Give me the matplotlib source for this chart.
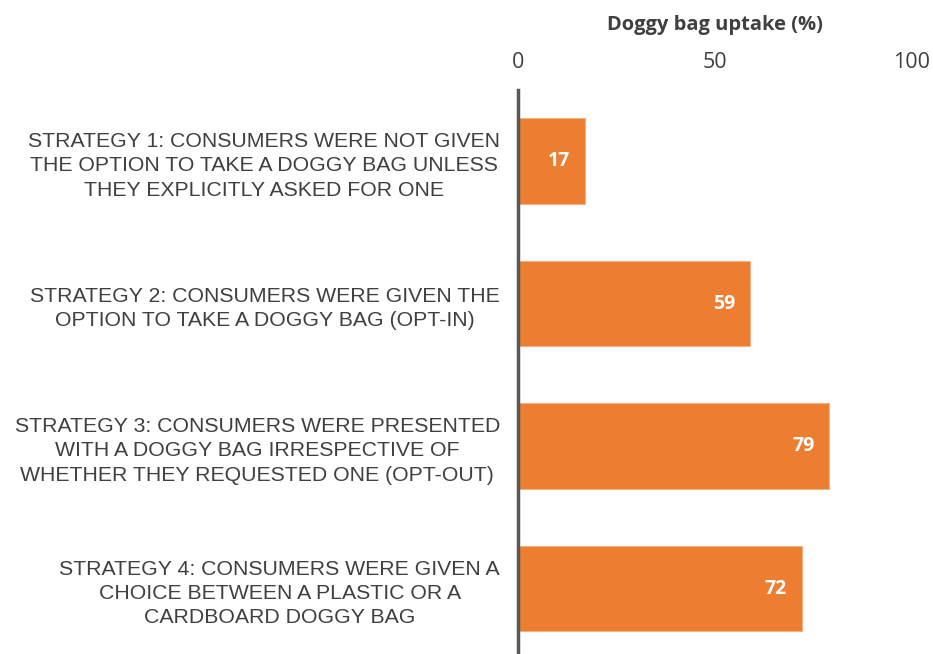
import matplotlib.pyplot as plt

# data
strategies = [
    "STRATEGY 1: CONSUMERS WERE NOT GIVEN\nTHE OPTION TO TAKE A DOGGY BAG UNLESS\nTHEY EXPLICITLY ASKED FOR ONE",
    "STRATEGY 2: CONSUMERS WERE GIVEN THE\nOPTION TO TAKE A DOGGY BAG (OPT-IN)",
    "STRATEGY 3: CONSUMERS WERE PRESENTED\nWITH A DOGGY BAG IRRESPECTIVE OF\nWHETHER THEY REQUESTED ONE (OPT-OUT)",
    "STRATEGY 4: CONSUMERS WERE GIVEN A\nCHOICE BETWEEN A PLASTIC OR A\nCARDBOARD DOGGY BAG",
]
uptake = [17, 59, 79, 72]
x_ticks = [0, 50, 100]

orange = "#ED7D31"
grey = "#404040"

fig = plt.figure(figsize=(9.33, 6.54), dpi=100)
ax = fig.add_axes([518 / 933, 0, (912 - 518) / 933, (654 - 90) / 654])

ypos = list(range(len(uptake)))
ax.barh(ypos, uptake, height=0.6, color=orange, edgecolor="#F4B183", linewidth=0.8)

for y, v in zip(ypos, uptake):
    ax.text(v - 3.8, y, str(v), ha="right", va="center", color="white",
            fontsize=14, fontweight="bold", family="Open Sans")

ax.set_xlim(0, 100)
ax.set_ylim(3.458, -0.5)
ax.set_xticks(x_ticks)
ax.set_xticklabels([str(t) for t in x_ticks], fontsize=15.5, family="Open Sans", color=grey)
ax.xaxis.tick_top()
ax.tick_params(axis="x", length=0, pad=12)
ax.tick_params(axis="y", length=0, pad=13)
ax.set_yticks(ypos)
ax.set_yticklabels(strategies, fontsize=15.3, family="Liberation Sans", color=grey,
                   ha="right", multialignment="center", linespacing=1.35)

ax.set_xlabel("Doggy bag uptake (%)", fontsize=14.5, fontweight="bold",
              family="Open Sans", color=grey, labelpad=16)
ax.xaxis.set_label_position("top")

for s in ["top", "right", "bottom"]:
    ax.spines[s].set_visible(False)
ax.spines["left"].set_color("#595959")
ax.spines["left"].set_linewidth(2.5)

fig.savefig("out.png", dpi=100)
